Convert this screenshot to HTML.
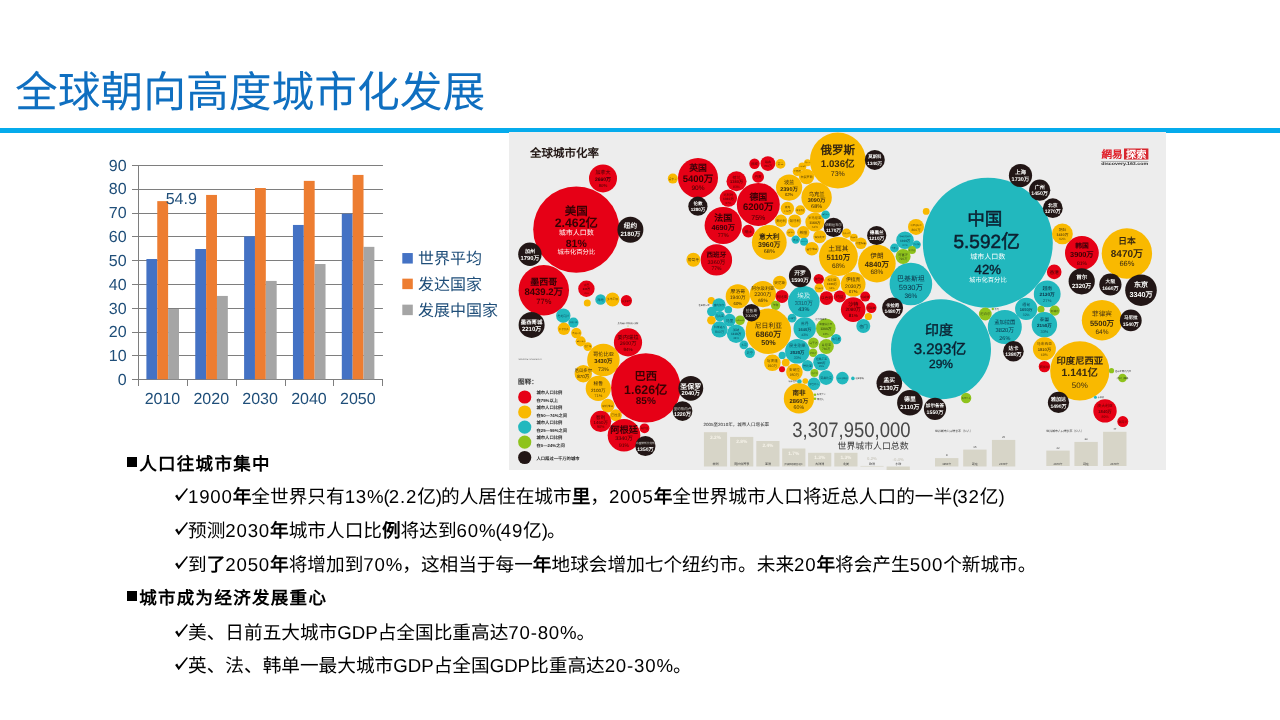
<!DOCTYPE html>
<html lang="zh-CN">
<head>
<meta charset="utf-8">
<title>全球朝向高度城市化发展</title>
<style>
html,body{margin:0;padding:0;background:#fff}
body{width:1280px;height:720px;position:relative;overflow:hidden;font-family:"Liberation Sans", sans-serif;color:#000;text-rendering:geometricPrecision}
.title{position:absolute;left:15.2px;top:62.6px;height:60px;line-height:60px;font-size:42.75px;font-weight:300;color:#0F6FC0;white-space:nowrap;letter-spacing:0}
.rule{position:absolute;left:0;top:128px;width:1280px;height:5px;background:#05ABEC}
.chart{position:absolute;left:100px;top:140px}
.info{position:absolute;left:509px;top:132px}
.row,.title,.chart,.info{will-change:transform}
.row{position:absolute;height:28px;line-height:28px;white-space:nowrap;font-size:18.67px}
.row.h{left:127px;font-weight:bold;font-size:17.5px}
.row.h span{position:absolute;left:12.2px;top:0;letter-spacing:1.3px}
.row.p{left:175px}
.row.p span{position:absolute;left:13px;top:0}
.d{letter-spacing:.8px}.a{letter-spacing:0}.q{letter-spacing:-1px}
.row.p span span{position:static}
.sq{position:absolute;left:0;top:6.8px;width:10.4px;height:10.6px;background:#000}
.ck{position:absolute;left:-0.5px;top:4.6px}
</style>
</head>
<body>
<div class="title">全球朝向高度城市化发展</div>
<div class="rule"></div>
<svg class="chart" width="520" height="300" viewBox="100 140 520 300" font-family='"Liberation Sans", sans-serif'>
<line x1="132" x2="382.95" y1="379.50" y2="379.50" stroke="#7e7e7e" stroke-width="1"/>
<line x1="132" x2="382.95" y1="355.50" y2="355.50" stroke="#7e7e7e" stroke-width="1"/>
<line x1="132" x2="382.95" y1="332.50" y2="332.50" stroke="#7e7e7e" stroke-width="1"/>
<line x1="132" x2="382.95" y1="308.50" y2="308.50" stroke="#7e7e7e" stroke-width="1"/>
<line x1="132" x2="382.95" y1="284.50" y2="284.50" stroke="#7e7e7e" stroke-width="1"/>
<line x1="132" x2="382.95" y1="260.50" y2="260.50" stroke="#7e7e7e" stroke-width="1"/>
<line x1="132" x2="382.95" y1="236.50" y2="236.50" stroke="#7e7e7e" stroke-width="1"/>
<line x1="132" x2="382.95" y1="213.50" y2="213.50" stroke="#7e7e7e" stroke-width="1"/>
<line x1="132" x2="382.95" y1="189.50" y2="189.50" stroke="#7e7e7e" stroke-width="1"/>
<line x1="132" x2="382.95" y1="165.50" y2="165.50" stroke="#7e7e7e" stroke-width="1"/>
<line x1="138.50" x2="138.50" y1="165.00" y2="386.00" stroke="#7e7e7e" stroke-width="1"/>
<line x1="187.50" x2="187.50" y1="379.00" y2="386.00" stroke="#7e7e7e" stroke-width="1"/>
<line x1="236.50" x2="236.50" y1="379.00" y2="386.00" stroke="#7e7e7e" stroke-width="1"/>
<line x1="285.50" x2="285.50" y1="379.00" y2="386.00" stroke="#7e7e7e" stroke-width="1"/>
<line x1="333.50" x2="333.50" y1="379.00" y2="386.00" stroke="#7e7e7e" stroke-width="1"/>
<line x1="382.50" x2="382.50" y1="379.00" y2="386.00" stroke="#7e7e7e" stroke-width="1"/>
<rect x="146.40" y="259.01" width="10.86" height="120.29" fill="#4472C4"/>
<rect x="157.26" y="201.13" width="10.86" height="178.17" fill="#ED7D31"/>
<rect x="168.12" y="309.03" width="10.86" height="70.27" fill="#A5A5A5"/>
<rect x="195.25" y="249.00" width="10.86" height="130.30" fill="#4472C4"/>
<rect x="206.11" y="194.93" width="10.86" height="184.37" fill="#ED7D31"/>
<rect x="216.97" y="295.93" width="10.86" height="83.37" fill="#A5A5A5"/>
<rect x="244.10" y="236.38" width="10.86" height="142.92" fill="#4472C4"/>
<rect x="254.96" y="188.03" width="10.86" height="191.27" fill="#ED7D31"/>
<rect x="265.82" y="280.92" width="10.86" height="98.38" fill="#A5A5A5"/>
<rect x="292.95" y="224.95" width="10.86" height="154.35" fill="#4472C4"/>
<rect x="303.81" y="180.88" width="10.86" height="198.42" fill="#ED7D31"/>
<rect x="314.67" y="264.01" width="10.86" height="115.29" fill="#A5A5A5"/>
<rect x="341.80" y="213.75" width="10.86" height="165.55" fill="#4472C4"/>
<rect x="352.66" y="174.92" width="10.86" height="204.38" fill="#ED7D31"/>
<rect x="363.52" y="246.86" width="10.86" height="132.44" fill="#A5A5A5"/>
<text x="126.6" y="385.00" text-anchor="end" font-size="16" fill="#1F4E79">0</text>
<text x="126.6" y="361.18" text-anchor="end" font-size="16" fill="#1F4E79">10</text>
<text x="126.6" y="337.36" text-anchor="end" font-size="16" fill="#1F4E79">20</text>
<text x="126.6" y="313.54" text-anchor="end" font-size="16" fill="#1F4E79">30</text>
<text x="126.6" y="289.72" text-anchor="end" font-size="16" fill="#1F4E79">40</text>
<text x="126.6" y="265.90" text-anchor="end" font-size="16" fill="#1F4E79">50</text>
<text x="126.6" y="242.08" text-anchor="end" font-size="16" fill="#1F4E79">60</text>
<text x="126.6" y="218.26" text-anchor="end" font-size="16" fill="#1F4E79">70</text>
<text x="126.6" y="194.44" text-anchor="end" font-size="16" fill="#1F4E79">80</text>
<text x="126.6" y="170.62" text-anchor="end" font-size="16" fill="#1F4E79">90</text>
<text x="162.43" y="404.1" text-anchor="middle" font-size="16" fill="#1F4E79">2010</text>
<text x="211.28" y="404.1" text-anchor="middle" font-size="16" fill="#1F4E79">2020</text>
<text x="260.12" y="404.1" text-anchor="middle" font-size="16" fill="#1F4E79">2030</text>
<text x="308.98" y="404.1" text-anchor="middle" font-size="16" fill="#1F4E79">2040</text>
<text x="357.83" y="404.1" text-anchor="middle" font-size="16" fill="#1F4E79">2050</text>
<text x="181.3" y="204" text-anchor="middle" font-size="16" fill="#1F4E79">54.9</text>
<rect x="402.3" y="253.05" width="10.5" height="10.5" fill="#4472C4"/>
<text x="418" y="263.90" font-size="16" fill="#1F4E79">世界平均</text>
<rect x="402.3" y="278.65" width="10.5" height="10.5" fill="#ED7D31"/>
<text x="418" y="289.50" font-size="16" fill="#1F4E79">发达国家</text>
<rect x="402.3" y="304.65" width="10.5" height="10.5" fill="#A5A5A5"/>
<text x="418" y="315.50" font-size="16" fill="#1F4E79">发展中国家</text>
</svg>
<svg class="info" width="657" height="338.3" viewBox="509 132 657 338.3" font-family='"Liberation Sans", sans-serif'>
<defs><filter id="sf" x="-2%%" y="-2%%" width="104%%" height="104%%"><feGaussianBlur stdDeviation="0.5"/></filter></defs>
<rect x="509" y="132" width="657" height="338.3" fill="#EDEDED"/>
<g filter="url(#sf)">
<circle cx="576.30" cy="229.60" r="43.10" fill="#E60012"/>
<circle cx="603.00" cy="178.40" r="14.00" fill="#E60012"/>
<circle cx="543.80" cy="290.20" r="25.20" fill="#E60012"/>
<circle cx="586.40" cy="288.70" r="8.20" fill="#E60012"/>
<circle cx="587.30" cy="303.00" r="3.50" fill="#F9B900"/>
<circle cx="600.60" cy="299.50" r="5.30" fill="#20B8BE"/>
<circle cx="612.50" cy="299.50" r="6.90" fill="#F9B900"/>
<circle cx="626.40" cy="300.70" r="5.60" fill="#E60012"/>
<circle cx="563.30" cy="315.70" r="7.20" fill="#20B8BE"/>
<circle cx="573.40" cy="322.70" r="5.10" fill="#20B8BE"/>
<circle cx="563.90" cy="328.80" r="6.20" fill="#F9B900"/>
<circle cx="576.30" cy="333.00" r="5.20" fill="#F9B900"/>
<circle cx="580.70" cy="341.30" r="5.10" fill="#F9B900"/>
<circle cx="587.80" cy="346.60" r="4.30" fill="#F9B900"/>
<circle cx="603.40" cy="360.00" r="16.20" fill="#F9B900"/>
<circle cx="628.00" cy="342.40" r="14.10" fill="#E60012"/>
<circle cx="583.30" cy="373.70" r="8.70" fill="#F9B900"/>
<circle cx="598.30" cy="388.40" r="12.60" fill="#F9B900"/>
<circle cx="607.70" cy="405.60" r="6.80" fill="#F9B900"/>
<circle cx="615.80" cy="415.30" r="6.00" fill="#F9B900"/>
<circle cx="600.70" cy="421.40" r="10.60" fill="#E60012"/>
<circle cx="624.00" cy="435.30" r="16.30" fill="#E60012"/>
<circle cx="644.50" cy="428.30" r="4.90" fill="#E60012"/>
<circle cx="645.80" cy="387.90" r="34.70" fill="#E60012"/>
<circle cx="698.00" cy="177.90" r="20.00" fill="#E60012"/>
<circle cx="672.80" cy="178.60" r="5.00" fill="#F9B900"/>
<circle cx="723.20" cy="225.50" r="18.60" fill="#E60012"/>
<circle cx="736.50" cy="181.30" r="10.00" fill="#E60012"/>
<circle cx="728.40" cy="198.10" r="8.70" fill="#E60012"/>
<circle cx="716.40" cy="259.90" r="15.70" fill="#E60012"/>
<circle cx="693.40" cy="259.80" r="7.00" fill="#F9B900"/>
<circle cx="758.30" cy="204.40" r="21.50" fill="#E60012"/>
<circle cx="754.50" cy="163.70" r="5.20" fill="#E60012"/>
<circle cx="767.90" cy="163.60" r="7.40" fill="#E60012"/>
<circle cx="780.50" cy="163.90" r="4.90" fill="#F9B900"/>
<circle cx="758.10" cy="176.90" r="5.90" fill="#E60012"/>
<circle cx="748.30" cy="231.10" r="6.30" fill="#E60012"/>
<circle cx="789.10" cy="187.60" r="13.10" fill="#F9B900"/>
<circle cx="816.60" cy="197.60" r="15.20" fill="#F9B900"/>
<circle cx="806.60" cy="176.60" r="7.70" fill="#F9B900"/>
<circle cx="797.20" cy="171.50" r="4.50" fill="#F9B900"/>
<circle cx="802.40" cy="166.40" r="4.00" fill="#F9B900"/>
<circle cx="807.50" cy="162.70" r="3.50" fill="#F9B900"/>
<circle cx="787.40" cy="208.40" r="6.70" fill="#F9B900"/>
<circle cx="800.30" cy="210.20" r="5.00" fill="#F9B900"/>
<circle cx="781.00" cy="220.80" r="6.20" fill="#F9B900"/>
<circle cx="794.70" cy="221.00" r="6.60" fill="#F9B900"/>
<circle cx="814.80" cy="222.10" r="9.50" fill="#F9B900"/>
<circle cx="825.60" cy="214.70" r="4.30" fill="#20B8BE"/>
<circle cx="769.30" cy="242.40" r="17.40" fill="#F9B900"/>
<circle cx="803.30" cy="232.30" r="6.20" fill="#F9B900"/>
<circle cx="819.70" cy="236.70" r="6.50" fill="#F9B900"/>
<circle cx="790.60" cy="232.80" r="4.30" fill="#F9B900"/>
<circle cx="795.70" cy="239.60" r="4.20" fill="#20B8BE"/>
<circle cx="804.10" cy="241.80" r="4.00" fill="#20B8BE"/>
<circle cx="811.90" cy="248.80" r="6.80" fill="#F9B900"/>
<circle cx="838.40" cy="256.50" r="19.40" fill="#F9B900"/>
<circle cx="846.50" cy="233.20" r="4.70" fill="#F9B900"/>
<circle cx="853.80" cy="237.70" r="4.00" fill="#F9B900"/>
<circle cx="860.90" cy="243.30" r="5.80" fill="#F9B900"/>
<circle cx="876.90" cy="263.60" r="18.80" fill="#F9B900"/>
<circle cx="837.80" cy="160.50" r="27.90" fill="#F9B900"/>
<circle cx="926.20" cy="211.40" r="3.40" fill="#F9B900"/>
<circle cx="916.00" cy="226.90" r="8.00" fill="#F9B900"/>
<circle cx="905.00" cy="240.30" r="8.80" fill="#20B8BE"/>
<circle cx="916.60" cy="244.60" r="4.20" fill="#20B8BE"/>
<circle cx="894.50" cy="248.00" r="4.40" fill="#20B8BE"/>
<circle cx="903.10" cy="256.40" r="7.50" fill="#8FC31F"/>
<circle cx="912.00" cy="249.90" r="4.00" fill="#8FC31F"/>
<circle cx="987.80" cy="242.70" r="65.00" fill="#20B8BE"/>
<circle cx="1062.40" cy="233.90" r="10.40" fill="#F9B900"/>
<circle cx="1081.90" cy="252.90" r="16.90" fill="#E60012"/>
<circle cx="1126.90" cy="253.50" r="25.20" fill="#F9B900"/>
<circle cx="1054.20" cy="271.90" r="7.30" fill="#E60012"/>
<circle cx="1047.20" cy="293.90" r="13.40" fill="#20B8BE"/>
<circle cx="1026.20" cy="308.90" r="11.10" fill="#20B8BE"/>
<circle cx="1041.00" cy="309.20" r="3.50" fill="#8FC31F"/>
<circle cx="1054.70" cy="310.60" r="5.10" fill="#8FC31F"/>
<circle cx="1044.40" cy="324.70" r="12.70" fill="#20B8BE"/>
<circle cx="985.30" cy="314.00" r="6.40" fill="#8FC31F"/>
<circle cx="992.80" cy="309.00" r="1.20" fill="#8FC31F"/>
<circle cx="1004.80" cy="327.00" r="17.00" fill="#20B8BE"/>
<circle cx="1044.40" cy="348.80" r="11.50" fill="#F9B900"/>
<circle cx="1044.40" cy="366.60" r="5.70" fill="#E60012"/>
<circle cx="1102.00" cy="320.20" r="20.20" fill="#F9B900"/>
<circle cx="1079.80" cy="370.90" r="29.60" fill="#F9B900"/>
<circle cx="1111.50" cy="370.70" r="2.60" fill="#8FC31F"/>
<circle cx="1122.50" cy="378.00" r="4.30" fill="#8FC31F"/>
<circle cx="1095.40" cy="397.30" r="1.50" fill="#20B8BE"/>
<circle cx="1105.00" cy="410.90" r="11.70" fill="#E60012"/>
<circle cx="1122.80" cy="421.60" r="5.50" fill="#E60012"/>
<circle cx="941.00" cy="349.20" r="50.00" fill="#20B8BE"/>
<circle cx="910.90" cy="284.00" r="21.30" fill="#20B8BE"/>
<circle cx="966.10" cy="398.00" r="5.20" fill="#8FC31F"/>
<circle cx="818.80" cy="279.10" r="5.20" fill="#E60012"/>
<circle cx="831.90" cy="283.30" r="8.40" fill="#F9B900"/>
<circle cx="853.20" cy="284.20" r="12.30" fill="#F9B900"/>
<circle cx="819.10" cy="288.00" r="4.60" fill="#F9B900"/>
<circle cx="826.50" cy="298.10" r="6.80" fill="#E60012"/>
<circle cx="839.80" cy="296.50" r="6.10" fill="#E60012"/>
<circle cx="865.20" cy="296.60" r="5.00" fill="#E60012"/>
<circle cx="853.20" cy="309.60" r="12.30" fill="#E60012"/>
<circle cx="871.30" cy="307.80" r="5.20" fill="#E60012"/>
<circle cx="868.40" cy="316.50" r="3.60" fill="#F9B900"/>
<circle cx="863.30" cy="326.00" r="7.00" fill="#20B8BE"/>
<circle cx="737.80" cy="296.40" r="12.10" fill="#F9B900"/>
<circle cx="762.90" cy="294.10" r="13.10" fill="#F9B900"/>
<circle cx="779.80" cy="282.80" r="7.00" fill="#F9B900"/>
<circle cx="782.00" cy="296.40" r="6.50" fill="#E60012"/>
<circle cx="775.60" cy="305.40" r="4.70" fill="#8FC31F"/>
<circle cx="803.80" cy="301.80" r="15.80" fill="#20B8BE"/>
<circle cx="768.40" cy="331.30" r="22.70" fill="#F9B900"/>
<circle cx="711.25" cy="300.60" r="3.60" fill="#F9B900"/>
<circle cx="719.00" cy="304.90" r="6.70" fill="#20B8BE"/>
<circle cx="711.80" cy="311.60" r="4.80" fill="#20B8BE"/>
<circle cx="728.30" cy="309.75" r="3.80" fill="#20B8BE"/>
<circle cx="719.70" cy="316.10" r="5.20" fill="#20B8BE"/>
<circle cx="711.40" cy="320.25" r="4.30" fill="#F9B900"/>
<circle cx="729.60" cy="320.10" r="6.30" fill="#20B8BE"/>
<circle cx="740.10" cy="320.25" r="4.80" fill="#8FC31F"/>
<circle cx="719.50" cy="329.40" r="8.10" fill="#20B8BE"/>
<circle cx="736.10" cy="333.70" r="9.20" fill="#20B8BE"/>
<circle cx="743.90" cy="344.80" r="4.40" fill="#20B8BE"/>
<circle cx="749.75" cy="352.80" r="5.20" fill="#20B8BE"/>
<circle cx="792.10" cy="318.20" r="4.40" fill="#20B8BE"/>
<circle cx="804.70" cy="328.50" r="11.20" fill="#20B8BE"/>
<circle cx="825.80" cy="328.40" r="9.80" fill="#8FC31F"/>
<circle cx="836.10" cy="339.10" r="5.20" fill="#20B8BE"/>
<circle cx="813.40" cy="342.70" r="5.30" fill="#8FC31F"/>
<circle cx="826.30" cy="346.50" r="7.50" fill="#8FC31F"/>
<circle cx="797.40" cy="351.20" r="12.30" fill="#20B8BE"/>
<circle cx="813.10" cy="352.70" r="4.20" fill="#8FC31F"/>
<circle cx="821.60" cy="362.20" r="8.40" fill="#20B8BE"/>
<circle cx="782.20" cy="355.40" r="3.60" fill="#20B8BE"/>
<circle cx="772.40" cy="362.80" r="8.30" fill="#F9B900"/>
<circle cx="785.75" cy="362.60" r="3.90" fill="#F9B900"/>
<circle cx="782.00" cy="369.20" r="3.00" fill="#E60012"/>
<circle cx="794.40" cy="372.10" r="8.30" fill="#F9B900"/>
<circle cx="807.50" cy="365.70" r="5.60" fill="#20B8BE"/>
<circle cx="814.40" cy="372.90" r="4.00" fill="#8FC31F"/>
<circle cx="826.10" cy="377.60" r="7.30" fill="#20B8BE"/>
<circle cx="842.40" cy="378.10" r="6.30" fill="#20B8BE"/>
<circle cx="852.90" cy="378.40" r="1.80" fill="#20B8BE"/>
<circle cx="814.00" cy="383.90" r="6.30" fill="#20B8BE"/>
<circle cx="799.40" cy="381.60" r="2.30" fill="#20B8BE"/>
<circle cx="805.25" cy="381.00" r="2.80" fill="#F9B900"/>
<circle cx="798.90" cy="398.40" r="15.10" fill="#F9B900"/>
<circle cx="815.00" cy="394.70" r="1.30" fill="#8FC31F"/>
<circle cx="815.00" cy="398.80" r="1.30" fill="#8FC31F"/>
<circle cx="630.40" cy="229.70" r="13.00" fill="#231815"/>
<circle cx="529.90" cy="254.30" r="11.70" fill="#231815"/>
<circle cx="531.60" cy="324.90" r="13.00" fill="#231815"/>
<circle cx="645.40" cy="446.00" r="10.10" fill="#231815"/>
<circle cx="690.80" cy="388.30" r="12.40" fill="#231815"/>
<circle cx="682.50" cy="411.10" r="9.90" fill="#231815"/>
<circle cx="697.90" cy="206.20" r="9.60" fill="#231815"/>
<circle cx="833.50" cy="227.40" r="9.70" fill="#231815"/>
<circle cx="876.70" cy="235.50" r="9.60" fill="#231815"/>
<circle cx="874.80" cy="159.90" r="10.00" fill="#231815"/>
<circle cx="1020.50" cy="175.50" r="11.60" fill="#231815"/>
<circle cx="1039.70" cy="190.20" r="10.60" fill="#231815"/>
<circle cx="1052.80" cy="208.20" r="9.90" fill="#231815"/>
<circle cx="1081.70" cy="281.30" r="13.10" fill="#231815"/>
<circle cx="1110.40" cy="284.50" r="11.10" fill="#231815"/>
<circle cx="1141.00" cy="290.20" r="15.80" fill="#231815"/>
<circle cx="1013.40" cy="351.30" r="10.30" fill="#231815"/>
<circle cx="1130.80" cy="320.40" r="10.90" fill="#231815"/>
<circle cx="1058.50" cy="402.40" r="10.60" fill="#231815"/>
<circle cx="892.60" cy="308.00" r="10.50" fill="#231815"/>
<circle cx="889.30" cy="383.20" r="12.80" fill="#231815"/>
<circle cx="909.90" cy="402.70" r="12.80" fill="#231815"/>
<circle cx="935.00" cy="408.80" r="11.10" fill="#231815"/>
<circle cx="800.00" cy="276.10" r="11.10" fill="#231815"/>
<circle cx="751.50" cy="312.70" r="8.70" fill="#231815"/>
<text x="576.30" y="214.70" font-size="11.50" fill="#3a0306" text-anchor="middle" font-weight="bold">美国</text>
<text x="576.30" y="227.09" font-size="12.30" fill="#3a0306" text-anchor="middle" font-weight="bold">2.462亿</text>
<text x="576.30" y="235.35" font-size="7.00" fill="#ffffff" text-anchor="middle">城市人口数</text>
<text x="576.30" y="246.63" font-size="10.50" fill="#3a0306" text-anchor="middle" font-weight="bold">81%</text>
<text x="576.30" y="254.40" font-size="6.30" fill="#ffffff" text-anchor="middle">城市化百分比</text>
<text x="603.00" y="174.34" font-size="5.00" fill="#3a0306" text-anchor="middle">加拿大</text>
<text x="603.00" y="181.06" font-size="5.00" fill="#3a0306" text-anchor="middle" font-weight="bold">2660万</text>
<text x="603.00" y="187.24" font-size="4.28" fill="#3a0306" text-anchor="middle">80%</text>
<text x="630.40" y="228.41" font-size="6.60" fill="#ffffff" text-anchor="middle" font-weight="bold">纽约</text>
<text x="630.40" y="235.56" font-size="6.20" fill="#ffffff" text-anchor="middle" font-weight="bold">2180万</text>
<text x="529.90" y="253.12" font-size="5.00" fill="#ffffff" text-anchor="middle" font-weight="bold">加州</text>
<text x="529.90" y="260.02" font-size="5.80" fill="#ffffff" text-anchor="middle" font-weight="bold">1790万</text>
<text x="543.80" y="285.38" font-size="9.00" fill="#3a0306" text-anchor="middle" font-weight="bold">墨西哥</text>
<text x="543.80" y="295.27" font-size="9.50" fill="#3a0306" text-anchor="middle" font-weight="bold">8439.2万</text>
<text x="543.80" y="304.44" font-size="7.50" fill="#3a0306" text-anchor="middle">77%</text>
<text x="531.60" y="323.57" font-size="5.40" fill="#ffffff" text-anchor="middle" font-weight="bold">墨西哥城</text>
<text x="531.60" y="330.59" font-size="6.00" fill="#ffffff" text-anchor="middle" font-weight="bold">2210万</text>
<text x="586.40" y="286.26" font-size="2.76" fill="#3a0306" text-anchor="middle" opacity="0.8">古巴</text>
<text x="586.40" y="290.20" font-size="2.76" fill="#3a0306" text-anchor="middle" font-weight="bold" opacity="0.8">840万</text>
<text x="586.40" y="293.83" font-size="2.36" fill="#3a0306" text-anchor="middle" opacity="0.8">76%</text>
<text x="600.60" y="300.70" font-size="3.29" fill="#0d3247" text-anchor="middle" opacity="0.8">海地</text>
<text x="612.50" y="300.51" font-size="2.76" fill="#3a2a10" text-anchor="middle" opacity="0.8">多米尼加</text>
<text x="626.40" y="301.52" font-size="2.24" fill="#3a0306" text-anchor="middle" opacity="0.8">波多黎各</text>
<text x="563.30" y="316.75" font-size="2.88" fill="#0d3247" text-anchor="middle" opacity="0.8">危地马拉</text>
<text x="573.40" y="323.44" font-size="2.04" fill="#0d3247" text-anchor="middle" opacity="0.8">洪都拉斯</text>
<text x="563.90" y="329.71" font-size="2.48" fill="#3a2a10" text-anchor="middle" opacity="0.8">萨尔瓦多</text>
<text x="576.30" y="333.76" font-size="2.08" fill="#3a2a10" text-anchor="middle" opacity="0.8">尼加拉瓜</text>
<text x="580.70" y="341.90" font-size="1.63" fill="#3a2a10" text-anchor="middle" opacity="0.8">哥斯达黎加</text>
<text x="587.80" y="347.44" font-size="2.29" fill="#3a2a10" text-anchor="middle" opacity="0.8">巴拿马</text>
<text x="603.40" y="356.12" font-size="5.25" fill="#3a2a10" text-anchor="middle">哥伦比亚</text>
<text x="603.40" y="363.08" font-size="5.70" fill="#3a2a10" text-anchor="middle" font-weight="bold">3430万</text>
<text x="603.40" y="371.33" font-size="5.30" fill="#3a2a10" text-anchor="middle">73%</text>
<text x="628.00" y="338.80" font-size="5.20" fill="#3a0306" text-anchor="middle">委内瑞拉</text>
<text x="628.00" y="345.10" font-size="5.20" fill="#3a0306" text-anchor="middle">2600万</text>
<text x="628.00" y="350.84" font-size="4.50" fill="#3a0306" text-anchor="middle">94%</text>
<text x="583.30" y="372.21" font-size="4.40" fill="#3a2a10" text-anchor="middle">厄瓜多尔</text>
<text x="583.30" y="377.54" font-size="4.50" fill="#3a2a10" text-anchor="middle">870万</text>
<text x="598.30" y="385.50" font-size="4.80" fill="#3a2a10" text-anchor="middle">秘鲁</text>
<text x="598.30" y="391.68" font-size="4.60" fill="#3a2a10" text-anchor="middle">2100万</text>
<text x="598.30" y="396.76" font-size="4.00" fill="#3a2a10" text-anchor="middle" opacity="0.8">71%</text>
<text x="607.70" y="406.59" font-size="2.72" fill="#3a2a10" text-anchor="middle" opacity="0.8">玻利维亚</text>
<text x="615.80" y="416.47" font-size="3.20" fill="#3a2a10" text-anchor="middle" opacity="0.8">巴拉圭</text>
<text x="600.70" y="418.88" font-size="4.60" fill="#3a0306" text-anchor="middle">智利</text>
<text x="600.70" y="423.81" font-size="4.40" fill="#3a0306" text-anchor="middle">1460万</text>
<text x="600.70" y="428.39" font-size="3.80" fill="#3a0306" text-anchor="middle" opacity="0.8">90%</text>
<text x="624.00" y="433.48" font-size="9.25" fill="#3a0306" text-anchor="middle" font-weight="bold">阿根廷</text>
<text x="624.00" y="440.51" font-size="5.50" fill="#3a0306" text-anchor="middle">3340万</text>
<text x="624.00" y="446.73" font-size="5.00" fill="#3a0306" text-anchor="middle">91%</text>
<text x="644.50" y="429.25" font-size="2.61" fill="#3a0306" text-anchor="middle" opacity="0.8">乌拉圭</text>
<text x="645.40" y="444.39" font-size="2.70" fill="#ffffff" text-anchor="middle" opacity="0.8">布宜诺斯艾利斯</text>
<text x="645.40" y="451.02" font-size="5.00" fill="#ffffff" text-anchor="middle" font-weight="bold">1350万</text>
<text x="645.80" y="379.92" font-size="11.30" fill="#3a0306" text-anchor="middle" font-weight="bold">巴西</text>
<text x="645.80" y="393.83" font-size="12.40" fill="#3a0306" text-anchor="middle" font-weight="bold">1.626亿</text>
<text x="645.80" y="404.25" font-size="10.00" fill="#3a0306" text-anchor="middle" font-weight="bold">85%</text>
<text x="690.80" y="388.56" font-size="7.00" fill="#ffffff" text-anchor="middle" font-weight="bold">圣保罗</text>
<text x="690.80" y="395.42" font-size="5.80" fill="#ffffff" text-anchor="middle" font-weight="bold">2040万</text>
<text x="682.50" y="409.88" font-size="3.50" fill="#ffffff" text-anchor="middle" opacity="0.8">里约热内卢</text>
<text x="682.50" y="416.43" font-size="5.30" fill="#ffffff" text-anchor="middle" font-weight="bold">1220万</text>
<text x="698.00" y="170.65" font-size="8.90" fill="#3a0306" text-anchor="middle" font-weight="bold">英国</text>
<text x="698.00" y="182.07" font-size="9.50" fill="#3a0306" text-anchor="middle" font-weight="bold">5400万</text>
<text x="698.00" y="189.87" font-size="6.50" fill="#3a0306" text-anchor="middle">90%</text>
<text x="672.80" y="179.57" font-size="2.67" fill="#3a2a10" text-anchor="middle" opacity="0.8">爱尔兰</text>
<text x="697.90" y="205.24" font-size="4.50" fill="#ffffff" text-anchor="middle" font-weight="bold">伦敦</text>
<text x="697.90" y="210.84" font-size="4.50" fill="#ffffff" text-anchor="middle" font-weight="bold">1280万</text>
<text x="723.20" y="221.48" font-size="9.00" fill="#3a0306" text-anchor="middle" font-weight="bold">法国</text>
<text x="723.20" y="229.66" font-size="7.30" fill="#3a0306" text-anchor="middle" font-weight="bold">4690万</text>
<text x="723.20" y="236.61" font-size="5.50" fill="#3a0306" text-anchor="middle">77%</text>
<text x="736.50" y="178.56" font-size="3.99" fill="#3a0306" text-anchor="middle" opacity="0.8">荷兰</text>
<text x="736.50" y="183.36" font-size="3.99" fill="#3a0306" text-anchor="middle" font-weight="bold" opacity="0.8">1380万</text>
<text x="736.50" y="187.75" font-size="3.42" fill="#3a0306" text-anchor="middle" opacity="0.8">83%</text>
<text x="728.40" y="195.65" font-size="3.29" fill="#3a0306" text-anchor="middle" opacity="0.8">比利时</text>
<text x="728.40" y="199.82" font-size="3.29" fill="#3a0306" text-anchor="middle" font-weight="bold" opacity="0.8">1010万</text>
<text x="728.40" y="203.65" font-size="2.82" fill="#3a0306" text-anchor="middle" opacity="0.8">97%</text>
<text x="716.40" y="257.21" font-size="6.60" fill="#3a0306" text-anchor="middle" font-weight="bold">西班牙</text>
<text x="716.40" y="264.01" font-size="5.50" fill="#3a0306" text-anchor="middle">3360万</text>
<text x="716.40" y="269.62" font-size="5.00" fill="#3a0306" text-anchor="middle">77%</text>
<text x="693.40" y="261.16" font-size="3.73" fill="#3a2a10" text-anchor="middle" opacity="0.8">葡萄牙</text>
<text x="758.30" y="199.95" font-size="8.90" fill="#3a0306" text-anchor="middle" font-weight="bold">德国</text>
<text x="758.30" y="210.27" font-size="9.50" fill="#3a0306" text-anchor="middle" font-weight="bold">6200万</text>
<text x="758.30" y="219.56" font-size="7.00" fill="#3a0306" text-anchor="middle">75%</text>
<text x="754.50" y="164.88" font-size="3.22" fill="#3a0306" text-anchor="middle" opacity="0.8">挪威</text>
<text x="767.90" y="162.68" font-size="2.96" fill="#3a0306" text-anchor="middle" opacity="0.8">瑞典</text>
<text x="767.90" y="167.12" font-size="2.96" fill="#3a0306" text-anchor="middle" opacity="0.8">760万</text>
<text x="780.50" y="165.01" font-size="3.04" fill="#3a2a10" text-anchor="middle" opacity="0.8">芬兰</text>
<text x="758.10" y="178.24" font-size="3.66" fill="#3a0306" text-anchor="middle" opacity="0.8">丹麦</text>
<text x="748.30" y="232.53" font-size="3.91" fill="#3a0306" text-anchor="middle" opacity="0.8">瑞士</text>
<text x="789.10" y="184.10" font-size="5.20" fill="#3a2a10" text-anchor="middle">波兰</text>
<text x="789.10" y="190.71" font-size="5.50" fill="#3a2a10" text-anchor="middle" font-weight="bold">2390万</text>
<text x="789.10" y="195.83" font-size="4.20" fill="#3a2a10" text-anchor="middle">62%</text>
<text x="816.60" y="195.73" font-size="5.30" fill="#3a2a10" text-anchor="middle">乌克兰</text>
<text x="816.60" y="202.41" font-size="5.50" fill="#3a2a10" text-anchor="middle" font-weight="bold">3090万</text>
<text x="816.60" y="208.31" font-size="5.50" fill="#3a2a10" text-anchor="middle">68%</text>
<text x="806.60" y="177.72" font-size="3.08" fill="#3a2a10" text-anchor="middle" opacity="0.8">白俄罗斯</text>
<text x="797.20" y="172.38" font-size="2.40" fill="#3a2a10" text-anchor="middle" opacity="0.8">立陶宛</text>
<text x="802.40" y="166.98" font-size="1.60" fill="#3a2a10" text-anchor="middle" opacity="0.8">拉脱维亚</text>
<text x="807.50" y="163.21" font-size="1.40" fill="#3a2a10" text-anchor="middle" opacity="0.8">爱沙尼亚</text>
<text x="787.40" y="207.57" font-size="2.68" fill="#3a2a10" text-anchor="middle" opacity="0.8">捷克</text>
<text x="787.40" y="211.59" font-size="2.68" fill="#3a2a10" text-anchor="middle" opacity="0.8">740万</text>
<text x="800.30" y="210.93" font-size="2.00" fill="#3a2a10" text-anchor="middle" opacity="0.8">斯洛伐克</text>
<text x="781.00" y="222.01" font-size="3.31" fill="#3a2a10" text-anchor="middle" opacity="0.8">奥地利</text>
<text x="794.70" y="222.28" font-size="3.52" fill="#3a2a10" text-anchor="middle" opacity="0.8">匈牙利</text>
<text x="814.80" y="219.32" font-size="3.31" fill="#3a2a10" text-anchor="middle" opacity="0.8">罗马尼亚</text>
<text x="814.80" y="223.98" font-size="3.59" fill="#3a2a10" text-anchor="middle" font-weight="bold" opacity="0.8">1160万</text>
<text x="814.80" y="228.16" font-size="3.08" fill="#3a2a10" text-anchor="middle" opacity="0.8">54%</text>
<text x="825.60" y="215.33" font-size="1.72" fill="#0d3247" text-anchor="middle" opacity="0.8">摩尔多瓦</text>
<text x="833.50" y="226.10" font-size="3.30" fill="#ffffff" text-anchor="middle" opacity="0.8">伊斯坦布尔</text>
<text x="833.50" y="232.15" font-size="4.80" fill="#ffffff" text-anchor="middle" font-weight="bold">1170万</text>
<text x="769.30" y="238.78" font-size="6.80" fill="#3a2a10" text-anchor="middle" font-weight="bold">意大利</text>
<text x="769.30" y="246.56" font-size="7.00" fill="#3a2a10" text-anchor="middle" font-weight="bold">3960万</text>
<text x="769.30" y="252.61" font-size="5.50" fill="#3a2a10" text-anchor="middle">68%</text>
<text x="803.30" y="233.70" font-size="3.84" fill="#3a2a10" text-anchor="middle" opacity="0.8">希腊</text>
<text x="819.70" y="237.65" font-size="2.60" fill="#3a2a10" text-anchor="middle" opacity="0.8">保加利亚</text>
<text x="790.60" y="233.43" font-size="1.72" fill="#3a2a10" text-anchor="middle" opacity="0.8">克罗地亚</text>
<text x="795.70" y="240.55" font-size="2.60" fill="#0d3247" text-anchor="middle" opacity="0.8">波黑</text>
<text x="804.10" y="242.27" font-size="1.28" fill="#0d3247" text-anchor="middle" opacity="0.8">阿尔巴尼亚</text>
<text x="811.90" y="249.79" font-size="2.72" fill="#3a2a10" text-anchor="middle" opacity="0.8">塞尔维亚</text>
<text x="838.40" y="251.26" font-size="6.75" fill="#3a2a10" text-anchor="middle">土耳其</text>
<text x="838.40" y="259.94" font-size="7.50" fill="#3a2a10" text-anchor="middle" font-weight="bold">5110万</text>
<text x="838.40" y="267.87" font-size="6.50" fill="#3a2a10" text-anchor="middle">68%</text>
<text x="846.50" y="233.89" font-size="1.88" fill="#3a2a10" text-anchor="middle" opacity="0.8">格鲁吉亚</text>
<text x="853.80" y="238.28" font-size="1.60" fill="#3a2a10" text-anchor="middle" opacity="0.8">亚美尼亚</text>
<text x="860.90" y="244.15" font-size="2.32" fill="#3a2a10" text-anchor="middle" opacity="0.8">阿塞拜疆</text>
<text x="876.70" y="234.48" font-size="4.60" fill="#ffffff" text-anchor="middle" font-weight="bold">德黑兰</text>
<text x="876.70" y="240.25" font-size="4.80" fill="#ffffff" text-anchor="middle" font-weight="bold">1210万</text>
<text x="876.90" y="258.11" font-size="6.60" fill="#3a2a10" text-anchor="middle">伊朗</text>
<text x="876.90" y="266.64" font-size="7.50" fill="#3a2a10" text-anchor="middle" font-weight="bold">4840万</text>
<text x="876.90" y="274.27" font-size="6.50" fill="#3a2a10" text-anchor="middle">68%</text>
<text x="837.80" y="154.20" font-size="11.50" fill="#3a2a10" text-anchor="middle" font-weight="bold">俄罗斯</text>
<text x="837.80" y="166.54" font-size="9.70" fill="#3a2a10" text-anchor="middle" font-weight="bold">1.036亿</text>
<text x="837.80" y="175.86" font-size="7.00" fill="#3a2a10" text-anchor="middle">73%</text>
<text x="874.80" y="158.47" font-size="4.30" fill="#ffffff" text-anchor="middle" font-weight="bold">莫斯科</text>
<text x="874.80" y="164.68" font-size="4.60" fill="#ffffff" text-anchor="middle" font-weight="bold">1340万</text>
<text x="916.00" y="225.53" font-size="2.18" fill="#3a2a10" text-anchor="middle" opacity="0.8">哈萨克斯坦</text>
<text x="916.00" y="230.78" font-size="3.40" fill="#3a2a10" text-anchor="middle" opacity="0.8">860万</text>
<text x="905.00" y="237.31" font-size="1.93" fill="#0d3247" text-anchor="middle" opacity="0.8">乌兹别克斯坦</text>
<text x="905.00" y="241.97" font-size="3.14" fill="#0d3247" text-anchor="middle" font-weight="bold" opacity="0.8">1010万</text>
<text x="905.00" y="245.86" font-size="2.69" fill="#0d3247" text-anchor="middle" opacity="0.8">37%</text>
<text x="916.60" y="245.21" font-size="1.68" fill="#0d3247" text-anchor="middle" opacity="0.8">吉尔吉斯</text>
<text x="894.50" y="248.86" font-size="2.35" fill="#0d3247" text-anchor="middle" opacity="0.8">土库曼</text>
<text x="903.10" y="255.54" font-size="3.19" fill="#2c3a10" text-anchor="middle" opacity="0.8">阿富汗</text>
<text x="903.10" y="260.04" font-size="3.19" fill="#2c3a10" text-anchor="middle" opacity="0.8">790万</text>
<text x="912.00" y="250.68" font-size="2.13" fill="#2c3a10" text-anchor="middle" opacity="0.8">塔吉克</text>
<text x="984.80" y="224.92" font-size="17.60" fill="#0c2030" text-anchor="middle" stroke="#0c2030" stroke-width="0.49">中国</text>
<text x="986.80" y="247.94" font-size="19.00" fill="#0c2030" text-anchor="middle" stroke="#0c2030" stroke-width="0.53">5.592亿</text>
<text x="987.80" y="258.56" font-size="7.00" fill="#ffffff" text-anchor="middle">城市人口数</text>
<text x="987.80" y="273.52" font-size="13.20" fill="#0c2030" text-anchor="middle" stroke="#0c2030" stroke-width="0.37">42%</text>
<text x="987.80" y="281.70" font-size="6.30" fill="#ffffff" text-anchor="middle">城市化百分比</text>
<text x="1020.50" y="174.51" font-size="5.50" fill="#ffffff" text-anchor="middle" font-weight="bold">上海</text>
<text x="1020.50" y="181.01" font-size="5.50" fill="#ffffff" text-anchor="middle" font-weight="bold">1730万</text>
<text x="1039.70" y="189.22" font-size="5.00" fill="#ffffff" text-anchor="middle" font-weight="bold">广州</text>
<text x="1039.70" y="195.40" font-size="5.20" fill="#ffffff" text-anchor="middle" font-weight="bold">1450万</text>
<text x="1052.80" y="207.25" font-size="4.80" fill="#ffffff" text-anchor="middle" font-weight="bold">北京</text>
<text x="1052.80" y="213.22" font-size="5.00" fill="#ffffff" text-anchor="middle" font-weight="bold">1270万</text>
<text x="1062.40" y="230.89" font-size="3.71" fill="#3a2a10" text-anchor="middle" opacity="0.8">朝鲜</text>
<text x="1062.40" y="235.88" font-size="3.71" fill="#3a2a10" text-anchor="middle" font-weight="bold" opacity="0.8">1410万</text>
<text x="1062.40" y="240.47" font-size="3.18" fill="#3a2a10" text-anchor="middle" opacity="0.8">62%</text>
<text x="1081.90" y="247.66" font-size="6.75" fill="#3a0306" text-anchor="middle" font-weight="bold">韩国</text>
<text x="1081.90" y="257.41" font-size="7.30" fill="#3a0306" text-anchor="middle" font-weight="bold">3900万</text>
<text x="1081.90" y="264.52" font-size="5.00" fill="#3a0306" text-anchor="middle">81%</text>
<text x="1126.90" y="244.38" font-size="8.70" fill="#3a2a10" text-anchor="middle" font-weight="bold">日本</text>
<text x="1126.90" y="256.65" font-size="10.00" fill="#3a2a10" text-anchor="middle" font-weight="bold">8470万</text>
<text x="1126.90" y="266.04" font-size="7.50" fill="#3a2a10" text-anchor="middle">66%</text>
<text x="1054.20" y="273.55" font-size="4.53" fill="#3a0306" text-anchor="middle">香港</text>
<text x="1081.70" y="278.81" font-size="5.50" fill="#ffffff" text-anchor="middle" font-weight="bold">首尔</text>
<text x="1081.70" y="287.59" font-size="6.00" fill="#ffffff" text-anchor="middle" font-weight="bold">2320万</text>
<text x="1110.40" y="282.75" font-size="4.80" fill="#ffffff" text-anchor="middle" font-weight="bold">大阪</text>
<text x="1110.40" y="289.82" font-size="5.00" fill="#ffffff" text-anchor="middle" font-weight="bold">1660万</text>
<text x="1141.00" y="287.25" font-size="7.00" fill="#ffffff" text-anchor="middle" font-weight="bold">东京</text>
<text x="1141.00" y="297.23" font-size="7.20" fill="#ffffff" text-anchor="middle" font-weight="bold">3340万</text>
<text x="1047.20" y="290.02" font-size="4.78" fill="#0d3247" text-anchor="middle">越南</text>
<text x="1047.20" y="296.45" font-size="4.78" fill="#0d3247" text-anchor="middle" font-weight="bold">2130万</text>
<text x="1047.20" y="302.36" font-size="4.10" fill="#0d3247" text-anchor="middle" opacity="0.8">27%</text>
<text x="1026.20" y="305.68" font-size="3.96" fill="#0d3247" text-anchor="middle" opacity="0.8">缅甸</text>
<text x="1026.20" y="311.01" font-size="3.96" fill="#0d3247" text-anchor="middle" font-weight="bold" opacity="0.8">1650万</text>
<text x="1026.20" y="315.91" font-size="3.40" fill="#0d3247" text-anchor="middle" opacity="0.8">32%</text>
<text x="1054.70" y="311.59" font-size="2.72" fill="#2c3a10" text-anchor="middle" opacity="0.8">柬埔寨</text>
<text x="1044.40" y="321.02" font-size="4.53" fill="#0d3247" text-anchor="middle">泰国</text>
<text x="1044.40" y="327.12" font-size="4.53" fill="#0d3247" text-anchor="middle" font-weight="bold">2150万</text>
<text x="1044.40" y="332.72" font-size="3.89" fill="#0d3247" text-anchor="middle" opacity="0.8">33%</text>
<text x="985.30" y="315.25" font-size="3.41" fill="#2c3a10" text-anchor="middle" opacity="0.8">尼泊尔</text>
<text x="1004.80" y="323.68" font-size="5.30" fill="#0d3247" text-anchor="middle">孟加拉国</text>
<text x="1004.80" y="332.32" font-size="5.80" fill="#0d3247" text-anchor="middle">3820万</text>
<text x="1004.80" y="339.71" font-size="5.50" fill="#0d3247" text-anchor="middle">26%</text>
<text x="1013.40" y="350.32" font-size="5.00" fill="#ffffff" text-anchor="middle" font-weight="bold">达卡</text>
<text x="1013.40" y="356.43" font-size="5.00" fill="#ffffff" text-anchor="middle" font-weight="bold">1380万</text>
<text x="1044.40" y="345.35" font-size="3.79" fill="#3a2a10" text-anchor="middle" opacity="0.8">马来西亚</text>
<text x="1044.40" y="350.99" font-size="4.11" fill="#3a2a10" text-anchor="middle" font-weight="bold" opacity="0.8">1810万</text>
<text x="1044.40" y="356.06" font-size="3.52" fill="#3a2a10" text-anchor="middle" opacity="0.8">69%</text>
<text x="1044.40" y="367.71" font-size="3.04" fill="#3a0306" text-anchor="middle" opacity="0.8">新加坡</text>
<text x="1102.00" y="316.21" font-size="6.60" fill="#3a2a10" text-anchor="middle">菲律宾</text>
<text x="1102.00" y="325.94" font-size="7.50" fill="#3a2a10" text-anchor="middle" font-weight="bold">5500万</text>
<text x="1102.00" y="334.37" font-size="6.50" fill="#3a2a10" text-anchor="middle">64%</text>
<text x="1130.80" y="319.28" font-size="4.60" fill="#ffffff" text-anchor="middle" font-weight="bold">马尼拉</text>
<text x="1130.80" y="325.52" font-size="5.00" fill="#ffffff" text-anchor="middle" font-weight="bold">1540万</text>
<text x="1079.80" y="364.04" font-size="9.30" fill="#3a2a10" text-anchor="middle" font-weight="bold">印度尼西亚</text>
<text x="1079.80" y="376.20" font-size="10.40" fill="#3a2a10" text-anchor="middle" font-weight="bold">1.141亿</text>
<text x="1079.80" y="387.77" font-size="8.00" fill="#3a2a10" text-anchor="middle">50%</text>
<text x="1058.50" y="401.42" font-size="5.00" fill="#ffffff" text-anchor="middle" font-weight="bold">雅加达</text>
<text x="1058.50" y="407.52" font-size="5.00" fill="#ffffff" text-anchor="middle" font-weight="bold">1490万</text>
<text x="1105.00" y="407.39" font-size="3.85" fill="#3a0306" text-anchor="middle" opacity="0.8">澳大利亚</text>
<text x="1105.00" y="413.13" font-size="4.18" fill="#3a0306" text-anchor="middle" font-weight="bold" opacity="0.8">1840万</text>
<text x="1105.00" y="418.29" font-size="3.58" fill="#3a0306" text-anchor="middle" opacity="0.8">89%</text>
<text x="1122.80" y="422.67" font-size="2.93" fill="#3a0306" text-anchor="middle" opacity="0.8">新西兰</text>
<text x="939.00" y="334.71" font-size="14.00" fill="#0c2030" text-anchor="middle" stroke="#0c2030" stroke-width="0.39">印度</text>
<text x="940.00" y="353.68" font-size="15.00" fill="#0c2030" text-anchor="middle" stroke="#0c2030" stroke-width="0.42">3.293亿</text>
<text x="941.00" y="367.98" font-size="12.00" fill="#0c2030" text-anchor="middle" stroke="#0c2030" stroke-width="0.34">29%</text>
<text x="910.90" y="280.72" font-size="6.90" fill="#0d3247" text-anchor="middle">巴基斯坦</text>
<text x="910.90" y="290.44" font-size="7.50" fill="#0d3247" text-anchor="middle">5930万</text>
<text x="910.90" y="297.87" font-size="6.50" fill="#0d3247" text-anchor="middle">36%</text>
<text x="892.60" y="306.88" font-size="4.60" fill="#ffffff" text-anchor="middle" font-weight="bold">卡拉奇</text>
<text x="892.60" y="313.12" font-size="5.00" fill="#ffffff" text-anchor="middle" font-weight="bold">1480万</text>
<text x="889.30" y="381.82" font-size="5.80" fill="#ffffff" text-anchor="middle" font-weight="bold">孟买</text>
<text x="889.30" y="389.99" font-size="6.00" fill="#ffffff" text-anchor="middle" font-weight="bold">2130万</text>
<text x="909.90" y="401.32" font-size="5.80" fill="#ffffff" text-anchor="middle" font-weight="bold">德里</text>
<text x="909.90" y="409.49" font-size="6.00" fill="#ffffff" text-anchor="middle" font-weight="bold">2110万</text>
<text x="935.00" y="407.48" font-size="4.60" fill="#ffffff" text-anchor="middle" font-weight="bold">加尔各答</text>
<text x="935.00" y="414.20" font-size="5.20" fill="#ffffff" text-anchor="middle" font-weight="bold">1550万</text>
<text x="966.10" y="398.76" font-size="2.08" fill="#2c3a10" text-anchor="middle" opacity="0.8">斯里兰卡</text>
<text x="818.80" y="280.11" font-size="2.77" fill="#3a0306" text-anchor="middle" opacity="0.8">黎巴嫩</text>
<text x="831.90" y="280.87" font-size="3.00" fill="#3a2a10" text-anchor="middle" opacity="0.8">叙利亚</text>
<text x="831.90" y="284.90" font-size="3.00" fill="#3a2a10" text-anchor="middle" font-weight="bold" opacity="0.8">1020万</text>
<text x="831.90" y="288.61" font-size="2.57" fill="#3a2a10" text-anchor="middle" opacity="0.8">53%</text>
<text x="853.20" y="281.35" font-size="4.80" fill="#3a2a10" text-anchor="middle">伊拉克</text>
<text x="853.20" y="287.82" font-size="5.00" fill="#3a2a10" text-anchor="middle">2030万</text>
<text x="853.20" y="292.63" font-size="4.20" fill="#3a2a10" text-anchor="middle">67%</text>
<text x="819.10" y="288.67" font-size="1.84" fill="#3a2a10" text-anchor="middle" opacity="0.8">巴勒斯坦</text>
<text x="826.50" y="299.42" font-size="3.63" fill="#3a0306" text-anchor="middle" opacity="0.8">以色列</text>
<text x="839.80" y="297.88" font-size="3.78" fill="#3a0306" text-anchor="middle" opacity="0.8">约旦</text>
<text x="865.20" y="297.57" font-size="2.67" fill="#3a0306" text-anchor="middle" opacity="0.8">科威特</text>
<text x="853.20" y="305.57" font-size="5.00" fill="#3a0306" text-anchor="middle">沙特</text>
<text x="853.20" y="311.35" font-size="4.80" fill="#3a0306" text-anchor="middle">2080万</text>
<text x="853.20" y="316.84" font-size="4.50" fill="#3a0306" text-anchor="middle">81%</text>
<text x="871.30" y="308.81" font-size="2.77" fill="#3a0306" text-anchor="middle" opacity="0.8">阿联酋</text>
<text x="863.30" y="327.58" font-size="4.34" fill="#0d3247" text-anchor="middle">也门</text>
<text x="800.00" y="274.72" font-size="5.80" fill="#ffffff" text-anchor="middle" font-weight="bold">开罗</text>
<text x="800.00" y="281.91" font-size="5.50" fill="#ffffff" text-anchor="middle" font-weight="bold">1590万</text>
<text x="737.80" y="293.15" font-size="4.80" fill="#3a2a10" text-anchor="middle">摩洛哥</text>
<text x="737.80" y="299.22" font-size="5.00" fill="#3a2a10" text-anchor="middle">1940万</text>
<text x="737.80" y="305.13" font-size="4.20" fill="#3a2a10" text-anchor="middle">60%</text>
<text x="762.90" y="290.08" font-size="4.60" fill="#3a2a10" text-anchor="middle">阿尔及利亚</text>
<text x="762.90" y="296.23" font-size="5.30" fill="#3a2a10" text-anchor="middle">2200万</text>
<text x="762.90" y="302.43" font-size="4.60" fill="#3a2a10" text-anchor="middle">65%</text>
<text x="779.80" y="284.16" font-size="3.73" fill="#3a2a10" text-anchor="middle" opacity="0.8">突尼斯</text>
<text x="782.00" y="297.67" font-size="3.47" fill="#3a0306" text-anchor="middle" opacity="0.8">利比亚</text>
<text x="775.60" y="306.46" font-size="2.91" fill="#2c3a10" text-anchor="middle" opacity="0.8">乍得</text>
<text x="803.80" y="298.21" font-size="6.60" fill="#d6f1f2" text-anchor="middle">埃及</text>
<text x="803.80" y="305.04" font-size="5.60" fill="#1a5668" text-anchor="middle">3310万</text>
<text x="803.80" y="311.31" font-size="5.50" fill="#0d3247" text-anchor="middle">43%</text>
<text x="751.50" y="311.69" font-size="3.80" fill="#ffffff" text-anchor="middle" opacity="0.8">拉各斯</text>
<text x="751.50" y="316.72" font-size="3.90" fill="#ffffff" text-anchor="middle" opacity="0.8">1000万</text>
<text x="768.40" y="327.68" font-size="6.80" fill="#3a2a10" text-anchor="middle">尼日利亚</text>
<text x="768.40" y="337.32" font-size="8.00" fill="#3a2a10" text-anchor="middle" font-weight="bold">6860万</text>
<text x="768.40" y="345.33" font-size="7.20" fill="#3a2a10" text-anchor="middle" font-weight="bold">50%</text>
<text x="719.00" y="305.88" font-size="2.68" fill="#0d3247" text-anchor="middle" opacity="0.8">塞内加尔</text>
<text x="719.70" y="317.11" font-size="2.77" fill="#0d3247" text-anchor="middle" opacity="0.8">几内亚</text>
<text x="729.60" y="321.53" font-size="3.91" fill="#0d3247" text-anchor="middle" opacity="0.8">马里</text>
<text x="740.10" y="320.81" font-size="1.54" fill="#2c3a10" text-anchor="middle" opacity="0.8">布基纳法索</text>
<text x="719.50" y="328.22" font-size="2.75" fill="#0d3247" text-anchor="middle" opacity="0.8">科特迪瓦</text>
<text x="719.50" y="333.33" font-size="3.44" fill="#0d3247" text-anchor="middle" opacity="0.8">840万</text>
<text x="736.10" y="331.03" font-size="3.28" fill="#0d3247" text-anchor="middle" opacity="0.8">加纳</text>
<text x="736.10" y="335.45" font-size="3.28" fill="#0d3247" text-anchor="middle" font-weight="bold" opacity="0.8">1110万</text>
<text x="736.10" y="339.51" font-size="2.82" fill="#0d3247" text-anchor="middle" opacity="0.8">48%</text>
<text x="743.90" y="345.80" font-size="2.73" fill="#0d3247" text-anchor="middle" opacity="0.8">多哥</text>
<text x="749.75" y="353.98" font-size="3.22" fill="#0d3247" text-anchor="middle" opacity="0.8">贝宁</text>
<text x="792.10" y="319.06" font-size="2.35" fill="#0d3247" text-anchor="middle" opacity="0.8">尼日尔</text>
<text x="804.70" y="325.26" font-size="4.00" fill="#0d3247" text-anchor="middle" opacity="0.8">苏丹</text>
<text x="804.70" y="330.63" font-size="4.00" fill="#0d3247" text-anchor="middle" font-weight="bold" opacity="0.8">1640万</text>
<text x="804.70" y="335.57" font-size="3.43" fill="#0d3247" text-anchor="middle" opacity="0.8">43%</text>
<text x="825.80" y="325.23" font-size="2.58" fill="#2c3a10" text-anchor="middle" opacity="0.8">埃塞俄比亚</text>
<text x="825.80" y="330.26" font-size="3.50" fill="#2c3a10" text-anchor="middle" font-weight="bold" opacity="0.8">1300万</text>
<text x="825.80" y="334.59" font-size="3.00" fill="#2c3a10" text-anchor="middle" opacity="0.8">16%</text>
<text x="836.10" y="340.11" font-size="2.77" fill="#0d3247" text-anchor="middle" opacity="0.8">索马里</text>
<text x="813.40" y="343.73" font-size="2.83" fill="#2c3a10" text-anchor="middle" opacity="0.8">乌干达</text>
<text x="826.30" y="345.64" font-size="3.19" fill="#2c3a10" text-anchor="middle" opacity="0.8">肯尼亚</text>
<text x="826.30" y="350.14" font-size="3.19" fill="#2c3a10" text-anchor="middle" opacity="0.8">760万</text>
<text x="797.40" y="347.51" font-size="4.05" fill="#0d3247" text-anchor="middle" opacity="0.8">民主刚果</text>
<text x="797.40" y="353.54" font-size="4.39" fill="#0d3247" text-anchor="middle" font-weight="bold">2020万</text>
<text x="797.40" y="358.97" font-size="3.76" fill="#0d3247" text-anchor="middle" opacity="0.8">33%</text>
<text x="813.10" y="353.52" font-size="2.24" fill="#2c3a10" text-anchor="middle" opacity="0.8">卢旺达</text>
<text x="821.60" y="359.68" font-size="2.77" fill="#0d3247" text-anchor="middle" opacity="0.8">坦桑尼亚</text>
<text x="821.60" y="363.80" font-size="3.00" fill="#0d3247" text-anchor="middle" font-weight="bold" opacity="0.8">980万</text>
<text x="821.60" y="367.51" font-size="2.57" fill="#0d3247" text-anchor="middle" opacity="0.8">25%</text>
<text x="772.40" y="361.85" font-size="3.53" fill="#3a2a10" text-anchor="middle" opacity="0.8">喀麦隆</text>
<text x="772.40" y="366.83" font-size="3.53" fill="#3a2a10" text-anchor="middle" opacity="0.8">910万</text>
<text x="794.40" y="371.15" font-size="3.53" fill="#3a2a10" text-anchor="middle" opacity="0.8">安哥拉</text>
<text x="794.40" y="376.13" font-size="3.53" fill="#3a2a10" text-anchor="middle" opacity="0.8">950万</text>
<text x="807.50" y="366.79" font-size="2.99" fill="#0d3247" text-anchor="middle" opacity="0.8">赞比亚</text>
<text x="814.40" y="373.68" font-size="2.13" fill="#2c3a10" text-anchor="middle" opacity="0.8">马拉维</text>
<text x="826.10" y="378.67" font-size="2.92" fill="#0d3247" text-anchor="middle" opacity="0.8">莫桑比克</text>
<text x="842.40" y="378.84" font-size="2.02" fill="#0d3247" text-anchor="middle" opacity="0.8">马达加斯加</text>
<text x="814.00" y="384.82" font-size="2.52" fill="#0d3247" text-anchor="middle" opacity="0.8">津巴布韦</text>
<text x="798.90" y="394.97" font-size="6.50" fill="#3a2a10" text-anchor="middle" font-weight="bold">南非</text>
<text x="798.90" y="402.52" font-size="5.80" fill="#3a2a10" text-anchor="middle" font-weight="bold">2860万</text>
<text x="798.90" y="408.93" font-size="5.30" fill="#3a2a10" text-anchor="middle">60%</text>
<text x="530.00" y="157.40" font-size="11.50" fill="#231815" text-anchor="start" font-weight="bold">全球城市化率</text>
<text x="1101.50" y="157.87" font-size="10.60" fill="#E0202A" text-anchor="start" font-weight="bold">網易</text>
<rect x="1124" y="148.5" width="24.4" height="11" fill="#D7262E"/>
<text x="1136.20" y="157.82" font-size="10.20" fill="#fff" text-anchor="middle" font-weight="bold">探索</text>
<rect x="1101" y="161.0" width="47.4" height="0.5" fill="#777"/>
<text x="1124.70" y="165.47" font-size="4.30" fill="#333" text-anchor="middle" font-weight="bold" textLength="47" lengthAdjust="spacingAndGlyphs">discovery.163.com</text>
<text x="518.50" y="359.94" font-size="2.30" fill="#666" text-anchor="start">SOURCE: UNHABITAT</text>
<text x="628.00" y="323.67" font-size="2.10" fill="#333" text-anchor="middle">委内瑞拉首都加拉加斯</text>
<circle cx="628" cy="326" r="0.5" fill="#8FC31F"/>
<text x="704.00" y="305.74" font-size="2.30" fill="#333" text-anchor="middle">毛里塔尼亚</text>
<text x="1115.00" y="371.54" font-size="2.30" fill="#333" text-anchor="start">巴布亚新几内亚</text>
<text x="1122.50" y="378.84" font-size="2.30" fill="#2c3a10" text-anchor="middle">所罗门群岛</text>
<text x="1097.50" y="398.00" font-size="2.20" fill="#333" text-anchor="start">东帝汶</text>
<text x="855.40" y="379.20" font-size="2.20" fill="#333" text-anchor="start">毛里求斯</text>
<text x="797.00" y="382.50" font-size="2.20" fill="#333" text-anchor="end">纳米比亚</text>
<text x="817.00" y="395.50" font-size="2.20" fill="#333" text-anchor="start">斯威士兰</text>
<text x="817.00" y="399.60" font-size="2.20" fill="#333" text-anchor="start">莱索托</text>
<text x="994.60" y="309.80" font-size="2.20" fill="#333" text-anchor="start">不丹</text>
<text x="821.00" y="320.40" font-size="2.20" fill="#333" text-anchor="middle">厄立特里亚</text>
<text x="518.10" y="383.91" font-size="6.60" fill="#3a3a3a" text-anchor="start" font-weight="bold">图释：</text>
<circle cx="524.7" cy="397.00" r="6.6" fill="#E60012"/>
<text x="536.50" y="394.27" font-size="4.30" fill="#2a2a2a" text-anchor="start" font-weight="bold">城市人口比例</text>
<text x="536.50" y="402.17" font-size="4.30" fill="#2a2a2a" text-anchor="start" font-weight="bold">在75%以上</text>
<circle cx="524.7" cy="412.00" r="6.6" fill="#F9B900"/>
<text x="536.50" y="409.27" font-size="4.30" fill="#2a2a2a" text-anchor="start" font-weight="bold">城市人口比例</text>
<text x="536.50" y="417.17" font-size="4.30" fill="#2a2a2a" text-anchor="start" font-weight="bold">在50—74%之间</text>
<circle cx="524.7" cy="427.10" r="6.6" fill="#20B8BE"/>
<text x="536.50" y="424.37" font-size="4.30" fill="#2a2a2a" text-anchor="start" font-weight="bold">城市人口比例</text>
<text x="536.50" y="432.27" font-size="4.30" fill="#2a2a2a" text-anchor="start" font-weight="bold">在25—59%之间</text>
<circle cx="524.7" cy="442.10" r="6.6" fill="#8FC31F"/>
<text x="536.50" y="439.37" font-size="4.30" fill="#2a2a2a" text-anchor="start" font-weight="bold">城市人口比例</text>
<text x="536.50" y="447.27" font-size="4.30" fill="#2a2a2a" text-anchor="start" font-weight="bold">在0—24%之间</text>
<circle cx="524.7" cy="457.5" r="6.6" fill="#231815"/>
<text x="536.50" y="459.87" font-size="4.30" fill="#2a2a2a" text-anchor="start" font-weight="bold">人口超过一千万的城市</text>
<text x="703.40" y="425.96" font-size="4.55" fill="#222" text-anchor="start">2005至2010年，城市人口增长率</text>
<rect x="703.90" y="432.20" width="23.2" height="34.30" fill="#D7D5C8"/>
<text x="715.50" y="438.55" font-size="4.80" fill="#f6f3ea" text-anchor="middle" font-weight="bold">3.2%</text>
<text x="715.50" y="465.10" font-size="3.00" fill="#333" text-anchor="middle">非洲</text>
<rect x="730.10" y="436.90" width="23.2" height="29.60" fill="#D7D5C8"/>
<text x="741.70" y="443.25" font-size="4.80" fill="#f6f3ea" text-anchor="middle" font-weight="bold">2.8%</text>
<text x="741.70" y="465.10" font-size="3.00" fill="#333" text-anchor="middle">阿拉伯国家</text>
<rect x="756.30" y="441.00" width="23.2" height="25.50" fill="#D7D5C8"/>
<text x="767.90" y="447.35" font-size="4.80" fill="#f6f3ea" text-anchor="middle" font-weight="bold">2.4%</text>
<text x="767.90" y="465.10" font-size="3.00" fill="#333" text-anchor="middle">亚洲</text>
<rect x="782.20" y="448.50" width="23.2" height="18.00" fill="#D7D5C8"/>
<text x="793.80" y="454.85" font-size="4.80" fill="#f6f3ea" text-anchor="middle" font-weight="bold">1.7%</text>
<text x="793.80" y="464.84" font-size="2.30" fill="#333" text-anchor="middle">拉美和加勒比地区</text>
<rect x="808.10" y="452.80" width="23.2" height="13.70" fill="#D7D5C8"/>
<text x="819.70" y="459.15" font-size="4.80" fill="#f6f3ea" text-anchor="middle" font-weight="bold">1.3%</text>
<text x="819.70" y="465.10" font-size="3.00" fill="#333" text-anchor="middle">大洋洲</text>
<rect x="834.30" y="452.80" width="23.2" height="13.70" fill="#D7D5C8"/>
<text x="845.90" y="459.15" font-size="4.80" fill="#f6f3ea" text-anchor="middle" font-weight="bold">1.3%</text>
<text x="845.90" y="465.10" font-size="3.00" fill="#333" text-anchor="middle">北美</text>
<rect x="860.4" y="465.9" width="23.2" height="0.7" fill="#D7D5C8"/>
<text x="872.00" y="460.17" font-size="4.30" fill="#cfcdc4" text-anchor="middle" font-weight="bold">0.2%</text>
<text x="872.00" y="465.10" font-size="3.00" fill="#333" text-anchor="middle">欧洲</text>
<rect x="886.6" y="466.5" width="23.2" height="3.8" fill="#D7D5C8"/>
<text x="898.20" y="460.57" font-size="4.30" fill="#cfcdc4" text-anchor="middle" font-weight="bold">-0.4%</text>
<text x="898.20" y="465.10" font-size="3.00" fill="#333" text-anchor="middle">东欧</text>
<text x="792.3" y="436.7" font-size="21" fill="#3a3a3a" textLength="118.2" lengthAdjust="spacingAndGlyphs" opacity="0.92">3,307,950,000</text>
<text x="837.60" y="448.55" font-size="8.90" fill="#3a3a3a" text-anchor="start">世界城市人口总数</text>
<text x="935.00" y="432.36" font-size="2.90" fill="#333" text-anchor="start">世界城市人口增长率（亿人）</text>
<rect x="935.00" y="458.10" width="23.4" height="8.40" fill="#D7D5C8"/>
<text x="946.70" y="456.32" font-size="2.80" fill="#333" text-anchor="middle">8</text>
<text x="946.70" y="465.02" font-size="2.80" fill="#333" text-anchor="middle">1950年</text>
<rect x="963.20" y="449.60" width="23.4" height="16.90" fill="#D7D5C8"/>
<text x="974.90" y="447.82" font-size="2.80" fill="#333" text-anchor="middle">15</text>
<text x="974.90" y="465.02" font-size="2.80" fill="#333" text-anchor="middle">现在</text>
<rect x="991.90" y="439.90" width="23.4" height="26.60" fill="#D7D5C8"/>
<text x="1003.60" y="438.12" font-size="2.80" fill="#333" text-anchor="middle">25</text>
<text x="1003.60" y="465.02" font-size="2.80" fill="#333" text-anchor="middle">2040年</text>
<text x="1046.30" y="431.96" font-size="2.90" fill="#333" text-anchor="start">世界城市人口增长率（亿人）</text>
<rect x="1046.30" y="450.60" width="23.4" height="15.40" fill="#D7D5C8"/>
<text x="1058.00" y="448.82" font-size="2.80" fill="#333" text-anchor="middle">22</text>
<text x="1058.00" y="464.62" font-size="2.80" fill="#333" text-anchor="middle">2040年</text>
<rect x="1074.40" y="441.90" width="23.4" height="24.10" fill="#D7D5C8"/>
<text x="1086.10" y="440.12" font-size="2.80" fill="#333" text-anchor="middle">33</text>
<text x="1086.10" y="464.62" font-size="2.80" fill="#333" text-anchor="middle">现在</text>
<rect x="1103.10" y="431.80" width="23.4" height="34.20" fill="#D7D5C8"/>
<text x="1114.80" y="430.02" font-size="2.80" fill="#333" text-anchor="middle">47</text>
<text x="1114.80" y="464.62" font-size="2.80" fill="#333" text-anchor="middle">2040年</text>
</g>
</svg>
<div class="row h" style="top:450.0px"><i class="sq"></i><span>人口往城市集中</span></div>
<div class="row p" style="top:482.8px"><svg class="ck" width="13" height="13" viewBox="0 0 13 13"><path d="M0.1 8.0 L2.2 6.5 L3.9 9.7 L11.9 0.1 L12.9 0.9 L3.7 13.2 Z" fill="#000"/></svg><span><span class="d">1900</span><b>年</b>全世界只有<span class="d">13</span>%<span class="q">(</span><span class="d">2.2</span>亿<span class="q">)</span>的人居住在城市<b>里</b>，<span class="d">2005</span><b>年</b>全世界城市人口将近总人口的一半<span class="q">(</span><span class="d">32</span>亿<span class="q">)</span></span></div>
<div class="row p" style="top:516.5px"><svg class="ck" width="13" height="13" viewBox="0 0 13 13"><path d="M0.1 8.0 L2.2 6.5 L3.9 9.7 L11.9 0.1 L12.9 0.9 L3.7 13.2 Z" fill="#000"/></svg><span>预测<span class="d">2030</span><b>年</b>城市人口比<b>例</b>将达到<span class="d">60</span>%<span class="q">(</span><span class="d">49</span>亿<span class="q">)</span>。</span></div>
<div class="row p" style="top:551.1px"><svg class="ck" width="13" height="13" viewBox="0 0 13 13"><path d="M0.1 8.0 L2.2 6.5 L3.9 9.7 L11.9 0.1 L12.9 0.9 L3.7 13.2 Z" fill="#000"/></svg><span>到<b>了</b><span class="d">2050</span><b>年</b>将增加到<span class="d">70</span>%，这相当于每一<b>年</b>地球会增加七个纽约市。未来<span class="d">20</span><b>年</b>将会产生<span class="d">500</span>个新城市。</span></div>
<div class="row h" style="top:584.2px"><i class="sq"></i><span>城市成为经济发展重心</span></div>
<div class="row p" style="top:618.9px"><svg class="ck" width="13" height="13" viewBox="0 0 13 13"><path d="M0.1 8.0 L2.2 6.5 L3.9 9.7 L11.9 0.1 L12.9 0.9 L3.7 13.2 Z" fill="#000"/></svg><span>美、日前五大城市<span class="a">GDP</span>占全国比重高达<span class="d">70-80</span>%。</span></div>
<div class="row p" style="top:651.8px"><svg class="ck" width="13" height="13" viewBox="0 0 13 13"><path d="M0.1 8.0 L2.2 6.5 L3.9 9.7 L11.9 0.1 L12.9 0.9 L3.7 13.2 Z" fill="#000"/></svg><span>英、法、韩单一最大城市<span class="a">GDP</span>占全国<span class="a">GDP</span>比重高达<span class="d">20-30</span>%。</span></div>
</body>
</html>
